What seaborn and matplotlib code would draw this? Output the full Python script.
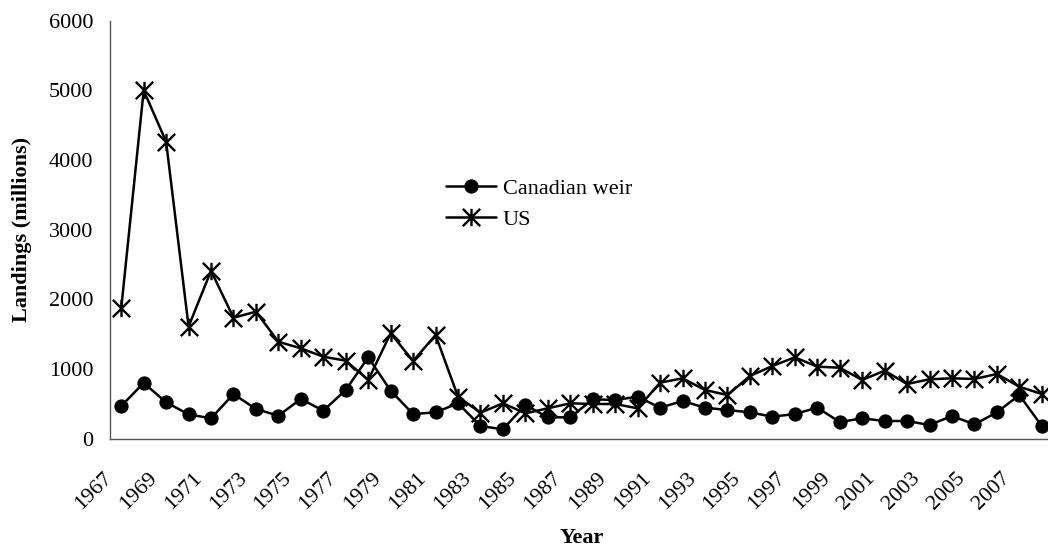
import numpy as np
import pandas as pd
import matplotlib
matplotlib.use("Agg")
import matplotlib.pyplot as plt
import matplotlib.transforms as mtransforms
from matplotlib.path import Path
import seaborn as sns

years = list(range(1967, 2009))

canadian_weir = [469, 800, 522, 350, 292, 641, 426, 330, 570, 402,
                 699, 1168, 689, 354, 378, 508, 182, 135, 484, 307,
                 307, 565, 556, 603, 445, 541, 445, 412, 378, 316,
                 354, 445, 240, 292, 254, 254, 197, 326, 206, 378,
                 627, 182]

us = [1871, 5000, 4263, 1610, 2411, 1737, 1823, 1392, 1297, 1177,
      1120, 843, 1513, 1115, 1488, 603, 373, 508, 364, 436,
      508, 498, 498, 436, 804, 867, 699, 627, 900, 1043,
      1168, 1034, 1019, 843, 976, 785, 853, 867, 857, 929,
      746, 642]

y_ticks = [0, 1000, 2000, 3000, 4000, 5000, 6000]

df = pd.DataFrame({"Year": years, "Canadian weir": canadian_weir, "US": us})

sns.set_theme(style="white")
plt.rcParams["font.family"] = ["Liberation Serif", "DejaVu Serif"]
plt.rcParams["text.color"] = "black"
plt.rcParams["axes.labelcolor"] = "black"

# excel style asterisk: an X with a vertical bar
star = Path([(-1, -1), (1, 1), (-1, 1), (1, -1), (0, -1), (0, 1)],
            [Path.MOVETO, Path.LINETO, Path.MOVETO, Path.LINETO, Path.MOVETO, Path.LINETO])

W, H = 1048, 552
fig = plt.figure(figsize=(W / 100, H / 100), dpi=100)
ax = fig.add_axes([110 / W, (H - 438.7) / H, 943 / W, 418 / H])

sns.lineplot(data=df, x="Year", y="Canadian weir", ax=ax, color="black", lw=1.8,
             marker="o", markersize=9.5, markeredgecolor="black", label="Canadian weir")
sns.lineplot(data=df, x="Year", y="US", ax=ax, color="black", lw=1.8,
             marker=star, markersize=12.5, markeredgewidth=1.7, markerfacecolor="none",
             markeredgecolor="black", label="US")

ax.set_xlim(years[0] - 0.5, years[-1] + 0.5)
ax.set_ylim(0, 6000)
ax.set_yticks(y_ticks)
ax.set_yticklabels([str(v) for v in y_ticks])

label_years = [y for y in years if (y - 1967) % 2 == 0]
ax.set_xticks(label_years)
ax.set_xticklabels([str(y) for y in label_years], rotation=45, ha="right",
                   va="center", rotation_mode="anchor")
ax.set_xticks(np.arange(years[0] - 0.5, years[-1] + 1.0, 1.0), minor=True)
ax.tick_params(axis="x", which="major", length=0, pad=25, labelsize=16, labelcolor="black")
ax.tick_params(axis="x", which="minor", length=6, width=1, color="#555555", direction="out")
ax.tick_params(axis="y", which="major", length=6, width=1, color="#555555",
               direction="out", pad=6, labelsize=16, labelcolor="black")

# excel puts the rotated labels a little left of the category centre
shift = mtransforms.ScaledTranslation(-12 / 100, -2 / 100, fig.dpi_scale_trans)
for lab in ax.get_xticklabels():
    lab.set_transform(lab.get_transform() + shift)

for side in ["top", "right"]:
    ax.spines[side].set_visible(False)
for side in ["left", "bottom"]:
    ax.spines[side].set_color("#555555")
    ax.spines[side].set_linewidth(1)

ax.set_xlabel("Year", fontsize=16, fontweight="bold")
ax.set_ylabel("Landings (millions)", fontsize=16, fontweight="bold")
ax.xaxis.set_label_coords(0.5, -(538 - 438.7) / 418)
ax.yaxis.set_label_coords(-(110 - 22) / 943, 0.5)
ax.xaxis.label.set_va("center")
ax.yaxis.label.set_va("center")

ax.legend(loc="center left", bbox_to_anchor=(446 / W, 1 - 204 / H),
          bbox_transform=fig.transFigure, frameon=False, fontsize=16,
          handlelength=2.25, handletextpad=0.3, labelspacing=0.45,
          borderpad=0, borderaxespad=0)

fig.savefig("out.png", dpi=100)
